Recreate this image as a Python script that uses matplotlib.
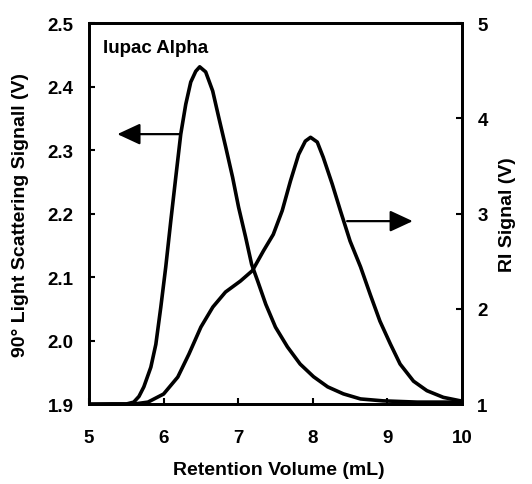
import numpy as np
import matplotlib.pyplot as plt

plt.rcParams['font.family'] = ['Liberation Sans', 'DejaVu Sans']

# 90 deg light scattering signal (left axis)
ls_x = [5.0, 5.3, 5.5, 5.6, 5.67, 5.735, 5.829, 5.896, 5.963, 6.029, 6.096, 6.163,
        6.23, 6.297, 6.364, 6.431, 6.484, 6.564, 6.658, 6.738, 6.832, 6.925, 7.005,
        7.099, 7.18, 7.26, 7.37, 7.5, 7.66, 7.83, 8.01, 8.2, 8.41, 8.64, 8.94, 9.4, 10.0]
ls_y = [1.899, 1.9, 1.9, 1.903, 1.912, 1.927, 1.958, 1.994, 2.053, 2.116, 2.188, 2.257,
        2.325, 2.372, 2.407, 2.424, 2.431, 2.423, 2.393, 2.352, 2.305, 2.257, 2.21,
        2.163, 2.12, 2.094, 2.057, 2.021, 1.99, 1.963, 1.943, 1.927, 1.916, 1.908, 1.905, 1.903, 1.903]

# refractive index signal (right axis)
ri_x = [5.0, 5.5, 5.65, 5.79, 6.0, 6.19, 6.34, 6.5, 6.66, 6.83, 7.03, 7.19, 7.34,
        7.47, 7.59, 7.7, 7.81, 7.9, 7.97, 8.06, 8.14, 8.26, 8.37, 8.5, 8.64, 8.77,
        8.9, 9.04, 9.17, 9.35, 9.53, 9.75, 10.0]
ri_y = [1.0, 1.0, 1.005, 1.02, 1.105, 1.283, 1.525, 1.808, 2.018, 2.176, 2.291, 2.4, 2.61,
        2.78, 3.03, 3.34, 3.62, 3.76, 3.8, 3.75, 3.59, 3.31, 3.03, 2.71, 2.44, 2.15,
        1.87, 1.63, 1.42, 1.24, 1.14, 1.07, 1.03]

x_ticks = [5, 6, 7, 8, 9, 10]
ls_ticks = [1.9, 2.0, 2.1, 2.2, 2.3, 2.4, 2.5]
ri_ticks = [1, 2, 3, 4, 5]

fig = plt.figure(figsize=(5.32, 4.85), dpi=100)
ax = fig.add_axes([0.1673, 0.1649, 0.7011, 0.7856])
ax2 = ax.twinx()

ax.plot(ls_x, ls_y, color='black', lw=2.6, solid_capstyle='round', solid_joinstyle='round')
ax2.plot(ri_x, ri_y, color='black', lw=2.6, solid_capstyle='round', solid_joinstyle='round')

ax.set_xlim(5, 10)
ax.set_ylim(1.9, 2.5)
ax2.set_ylim(1, 5)
ax.set_xticks(x_ticks)
ax.set_yticks(ls_ticks)
ax.set_yticklabels(['%.1f' % v for v in ls_ticks])
ax2.set_yticks(ri_ticks)

for a in (ax, ax2):
    for s in a.spines.values():
        s.set_linewidth(2)
    a.tick_params(direction='in', length=4, width=1.5, labelsize=13.5, pad=11)
    for lab in a.get_xticklabels() + a.get_yticklabels():
        lab.set_fontweight('bold')
ax.tick_params(axis='x', pad=18)

ax.set_xlabel('Retention Volume (mL)', fontsize=14, fontweight='bold', va='center')
ax.xaxis.set_label_coords(0.509, -0.171)
ax.set_ylabel('90° Light Scattering Signall (V)', fontsize=14, fontweight='bold', va='center')
ax.yaxis.set_label_coords(-0.183, 0.5)
ax2.set_ylabel('RI Signal (V)', fontsize=14, fontweight='bold', va='center')
ax2.yaxis.set_label_coords(1.123, 0.5)

# arrows pointing to the axis of each curve
arrow = dict(arrowstyle='-|>,head_length=1.4,head_width=0.65', color='black',
             lw=1.6, shrinkA=0, shrinkB=0, mutation_scale=10)
ax.annotate('', xy=(5.38, 2.325), xytext=(6.23, 2.325), arrowprops=arrow)
ax.annotate('', xy=(9.34, 2.188), xytext=(8.46, 2.188), arrowprops=arrow)

ax.text(5.19, 2.462, 'Iupac Alpha', fontsize=13.5, fontweight='bold', va='center', ha='left')

fig.savefig('out.png', dpi=100)
